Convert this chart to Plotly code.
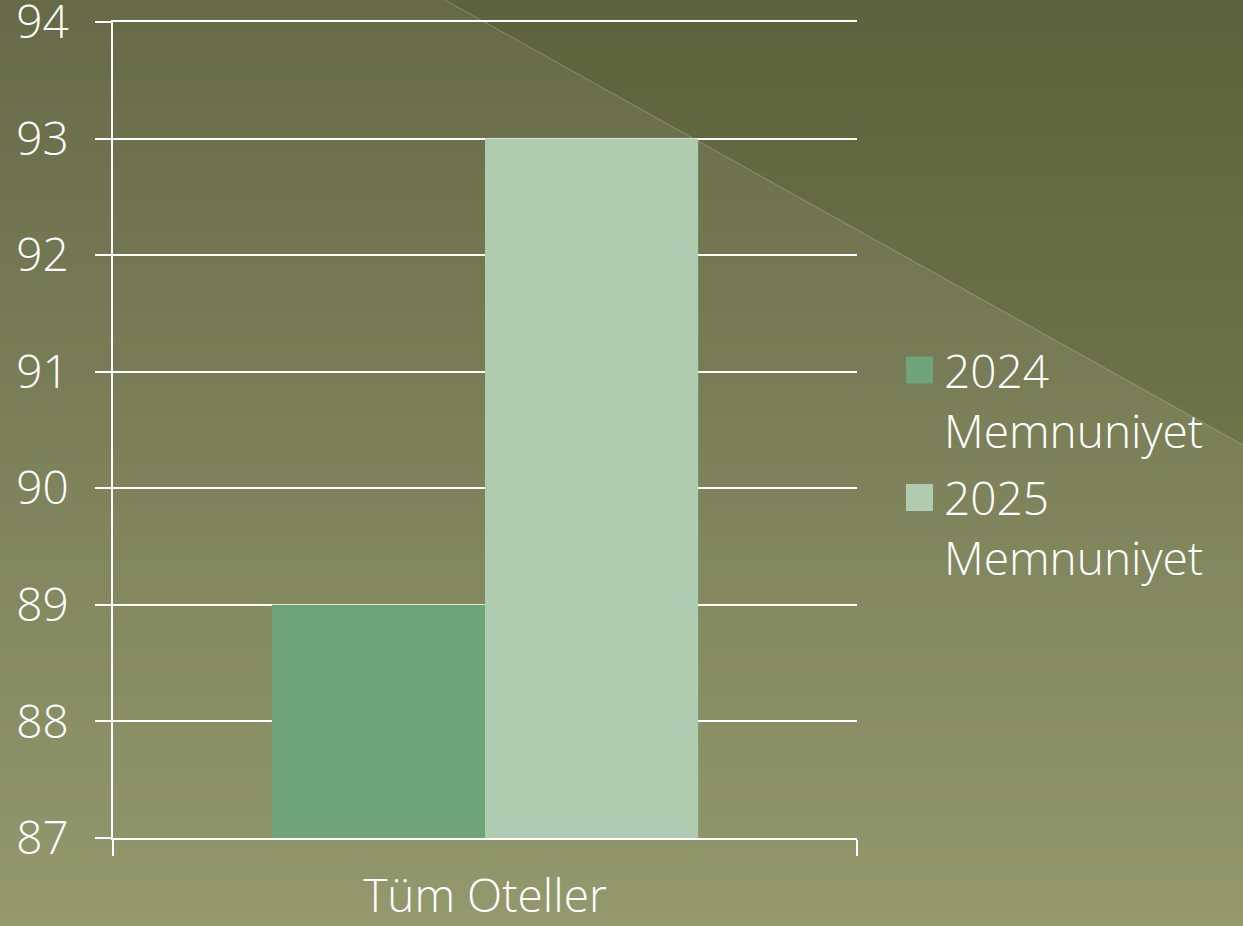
import plotly.graph_objects as go

categories = ["Tüm Oteller"]
series_names = ["2024<br>Memnuniyet", "2025<br>Memnuniyet"]
values_2024 = [89]
values_2025 = [93]
series_colors = ["#6FA37A", "#AFCCB0"]

W, H = 1243, 926
L, R, T, B = 113, 386, 22, 88
pw, ph = W - L - R, H - T - B

def px_x(px):
    return (px - L) / pw

def px_y(py):
    return (H - B - py) / ph

def lerp(c1, c2, t):
    return "rgb(%d,%d,%d)" % tuple(round(a + (b - a) * t) for a, b in zip(c1, c2))

top_c = (0x66, 0x6A, 0x47)
bot_c = (0x93, 0x99, 0x6D)

shapes = []
n = 60
for i in range(n):
    y0 = H * i / n
    y1 = H * (i + 1) / n + 1
    shapes.append(dict(type="rect", xref="paper", yref="paper", layer="below",
                       x0=px_x(0), x1=px_x(W), y0=px_y(y0), y1=px_y(y1),
                       line=dict(width=0), fillcolor=lerp(top_c, bot_c, (i + 0.5) / n)))
shapes.append(dict(type="path", xref="paper", yref="paper", layer="below",
                   path="M %f,%f L %f,%f L %f,%f Z" % (px_x(445), px_y(0), px_x(W), px_y(0), px_x(W), px_y(445)),
                   line=dict(width=0), fillcolor="rgba(60,75,20,0.22)"))
shapes.append(dict(type="line", xref="paper", yref="paper", layer="below",
                   x0=px_x(445), y0=px_y(0), x1=px_x(W), y1=px_y(445),
                   line=dict(color="rgba(255,255,255,0.25)", width=1)))

fig = go.Figure()
fig.add_trace(go.Bar(x=categories, y=values_2024, name=series_names[0], legendgroup="a",
                     marker=dict(color=series_colors[0], line=dict(width=0))))
fig.add_trace(go.Bar(x=categories, y=values_2025, name=series_names[1], legendgroup="b",
                     marker=dict(color=series_colors[1], line=dict(width=0))))

font_family = "'Open Sans', Lato, 'DejaVu Sans', sans-serif"
tf = dict(size=46, color="white", family=font_family, weight=300)
fig.update_layout(
    width=W, height=H,
    margin=dict(l=L, r=R, t=T, b=B, pad=0, autoexpand=False),
    paper_bgcolor="#767A50", plot_bgcolor="rgba(0,0,0,0)",
    barmode="group", bargap=0.427, bargroupgap=0,
    font=tf,
    shapes=shapes,
    showlegend=True,
    legend=dict(x=px_x(898), xanchor="left", y=px_y(464), yanchor="middle",
                font=tf, valign="top",
                bgcolor="rgba(0,0,0,0)", tracegroupgap=5, itemwidth=36),
    xaxis=dict(automargin=False, showline=True, mirror=True, linecolor="white", linewidth=2,
               showgrid=False, ticks="outside", tickson="boundaries",
               ticklen=16, tickwidth=2, tickcolor="white", ticklabelstandoff=17,
               tickfont=tf),
    yaxis=dict(automargin=False, range=[87, 94], dtick=1, tick0=87, showline=True,
               linecolor="white", linewidth=2,
               showgrid=True, gridcolor="white", gridwidth=2, zeroline=False,
               ticks="outside", ticklen=16, tickwidth=2, tickcolor="white",
               ticklabelstandoff=17, ticklabeloverflow="allow",
               tickfont=tf),
)

post = """
document.body.style.margin='0';
document.body.style.padding='0';
document.querySelectorAll('.legendpoints path').forEach(function(p){
  p.setAttribute('d', 'M12,13.5H-15V-13.5H12Z');
});
"""
fig.write_html("out.html", post_script=post, config={"displayModeBar": False})
